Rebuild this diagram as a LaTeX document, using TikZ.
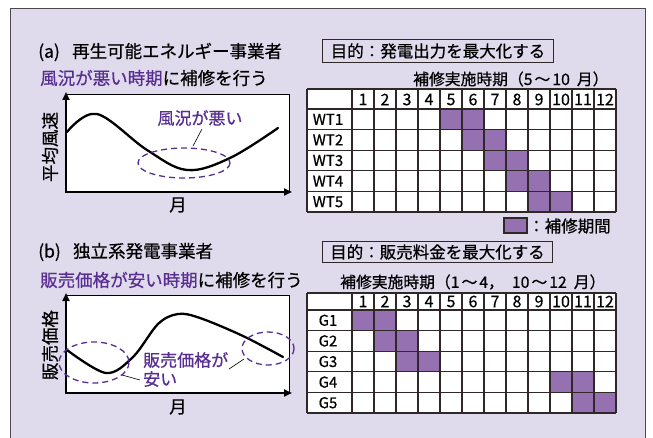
\documentclass[tikz,border=0pt]{standalone}
\usepackage{fontspec}
\setmainfont{Noto Sans CJK JP}[FakeBold=0.6]
\usetikzlibrary{arrows.meta}
\definecolor{bg}{RGB}{224,219,236}
\definecolor{pfill}{RGB}{149,113,177}
\definecolor{ptext}{RGB}{88,46,146}
\definecolor{gridc}{RGB}{48,40,40}
\definecolor{framec}{RGB}{75,72,75}
\begin{document}
\begin{tikzpicture}[x=1pt,y=-1pt,
  txt/.style={inner sep=0pt, anchor=west},
  big/.style={font=\fontsize{17.5}{20}\selectfont},
  mid/.style={font=\fontsize{16.5}{19}\selectfont},
  small/.style={font=\fontsize{15.8}{18}\selectfont},
  num/.style={inner sep=0pt, font=\fontsize{16}{18}\selectfont},
  goalbox/.style={draw=gridc, line width=1pt, inner sep=0pt, anchor=north west, font=\fontsize{16.5}{19}\selectfont},
  gridline/.style={draw=gridc, line width=1.1pt},
  axis/.style={line width=2pt, -{Triangle[length=8pt,width=7pt]}},
  curve/.style={line width=2.3pt, line join=round, line cap=round},
  oval/.style={draw=ptext, line width=1.3pt, dash pattern=on 6pt off 4pt},
  leader/.style={line width=0.6pt},
  plotbox/.style={draw=black, line width=0.8pt, fill=white}]
\useasboundingbox (0,0) rectangle (653,438);
\clip (0,0) rectangle (653,438);
\fill[white] (0,0) rectangle (653,438);
\draw[fill=bg, draw=framec, line width=1.5pt] (10.5,8.5) rectangle (645.5,460);

% ---------------- (a) ----------------
\node[txt, big] (ta) at (38,52) {(a)\hspace{0.7em}再生可能エネルギー事業者};
\node[txt, big] (sa) at (40,78) {\textcolor{ptext}{風況が悪い時期}に補修を行う};
\node[goalbox, minimum width=231pt, minimum height=23pt] (ga) at (322,39) {目的：発電出力を最大化する};
\node[txt, small] (pa) at (413,79) {補修実施時期（5\hspace{2pt}～\hspace{2pt}10\hspace{7pt}月）};

% table a
\fill[white] (307,89) rectangle (616,212);
\foreach \r/\m in {1/5,2/6,3/7,4/8,5/9}{
  \fill[pfill] ({352+22*(\m-1)},{109+20.6*(\r-1)}) rectangle +(44,20.6);
}
\foreach \yy in {89,109,129.6,150.2,170.8,191.4,212}{
  \draw[gridline] (307,\yy) -- (616,\yy);
}
\foreach \xx in {307,352,374,396,418,440,462,484,506,528,550,572,594,616}{
  \draw[gridline] (\xx,89) -- (\xx,212);
}
\foreach \i in {1,...,12}{
  \node[num] (ha\i) at ({352+22*(\i-0.5)},99.5) {\i};
}
\foreach \r/\lab in {1/WT1,2/WT2,3/WT3,4/WT4,5/WT5}{
  \node[num, font=\fontsize{15}{17}\selectfont] (ra\r) at (328,{109+20.6*(\r-0.5)}) {\lab};
}
% legend
\draw[fill=pfill, draw=gridc, line width=1.2pt] (504,218) rectangle (527,233);
\node[txt, mid] (lg) at (528,226) {：補修期間};

% chart a
\draw[plotbox] (66,94) rectangle (289,192);
\draw[axis] (66,193) -- (66,92);
\draw[axis] (65,192) -- (292,192);
\draw[curve] plot[smooth, tension=0.6] coordinates {(67,132) (97,114) (147,150) (187,170) (230,158) (278,128)};
\draw[oval] (184,163) ellipse [x radius=46, y radius=15];
\node[inner sep=0pt, font=\fontsize{17}{19}\selectfont, text=ptext] (la) at (200,118) {風況が悪い};
\draw[leader] (202,129) -- (193,146);
\node[inner sep=0pt, rotate=90, big] (ya) at (50,147) {平均風速};
\node[inner sep=0pt, big] (xa) at (178,205) {月};

% ---------------- (b) ----------------
\node[txt, big] (tb) at (38,252) {(b)\hspace{0.7em}独立系発電事業者};
\node[txt, big] (sb) at (40,280) {\textcolor{ptext}{販売価格が安い時期}に補修を行う};
\node[goalbox, minimum width=230pt, minimum height=21pt] (gb) at (322,241) {目的：販売料金を最大化する};
\node[txt, small] (pb) at (340,282) {補修実施時期（1\hspace{2pt}～\hspace{2pt}4，\hspace{8pt}10\hspace{2pt}～\hspace{2pt}12\hspace{7pt}月）};

% table b
\fill[white] (307,293) rectangle (616,413);
\foreach \r/\m in {1/1,2/2,3/3,4/10,5/11}{
  \fill[pfill] ({352+22*(\m-1)},{310+20.6*(\r-1)}) rectangle +(44,20.6);
}
\foreach \yy in {293,310,330.6,351.2,371.8,392.4,413}{
  \draw[gridline] (307,\yy) -- (616,\yy);
}
\foreach \xx in {307,352,374,396,418,440,462,484,506,528,550,572,594,616}{
  \draw[gridline] (\xx,293) -- (\xx,413);
}
\foreach \i in {1,...,12}{
  \node[num] (hb\i) at ({352+22*(\i-0.5)},301.5) {\i};
}
\foreach \r/\lab in {1/G1,2/G2,3/G3,4/G4,5/G5}{
  \node[num, font=\fontsize{15}{17}\selectfont] (rb\r) at (328,{310+20.6*(\r-0.5)}) {\lab};
}

% chart b
\draw[plotbox] (66,295) rectangle (289,393);
\draw[axis] (66,394) -- (66,293);
\draw[axis] (65,393) -- (292,393);
\draw[curve] plot[smooth, tension=0.55] coordinates {(67,350) (106,373) (133,357) (158,324) (178,314) (200,318) (243,336) (283,357)};
\draw[oval] (94,362.5) ellipse [x radius=35, y radius=20.5];
\draw[oval] (268,348.5) ellipse [x radius=26, y radius=16.5];
\node[inner sep=0pt, anchor=west, align=left, font=\fontsize{17}{19}\selectfont, text=ptext] (lb) at (143,369.5) {販売価格が\\安い};
\draw[leader] (122,375) -- (140,380);
\draw[leader] (229,369) -- (244,359);
\node[inner sep=0pt, rotate=90, big] (yb) at (50,345) {販売価格};
\node[inner sep=0pt, big] (xb) at (178,407) {月};
\end{tikzpicture}
\end{document}
